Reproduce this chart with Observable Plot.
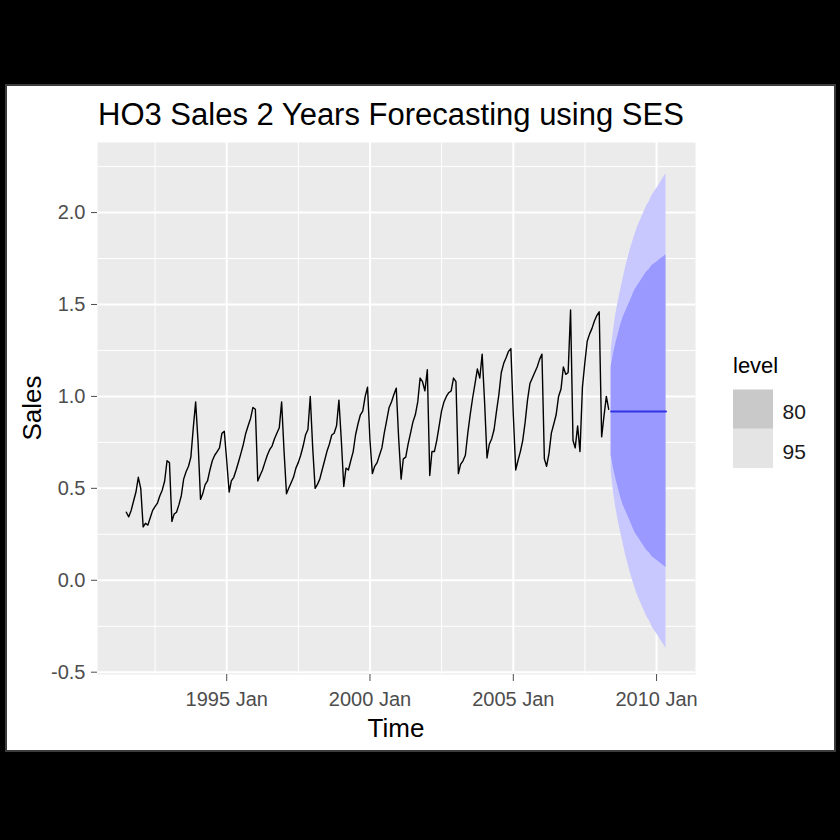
<!DOCTYPE html>
<html><head><meta charset="utf-8">
<script src="https://cdn.jsdelivr.net/npm/d3@7"></script>
<script src="https://cdn.jsdelivr.net/npm/@observablehq/plot@0.6"></script>
<style>
html,body{margin:0;padding:0;background:#000;width:840px;height:840px;overflow:hidden;}
#box{position:absolute;left:5px;top:84px;width:827px;height:664px;background:#fff;border:2px solid #3c3c3c;}
#chart{position:absolute;left:0;top:0;}
</style></head><body>
<div id="box"></div>
<div id="chart"></div>
<script>
// Monthly sales, starting July 1991, ending May 2008
const startYear = 1991, startMonth = 7;
const sales = [
  0.37, 0.345, 0.38, 0.43, 0.48, 0.56,
  0.50, 0.29, 0.31, 0.30, 0.34, 0.38, 0.40, 0.42, 0.46, 0.49, 0.54, 0.65,
  0.64, 0.32, 0.36, 0.37, 0.41, 0.46, 0.55, 0.59, 0.62, 0.67, 0.83, 0.97,
  0.75, 0.44, 0.47, 0.52, 0.54, 0.60, 0.65, 0.68, 0.70, 0.72, 0.80, 0.81,
  0.65, 0.48, 0.54, 0.56, 0.60, 0.645, 0.69, 0.74, 0.80, 0.84, 0.88, 0.94,
  0.93, 0.54, 0.57, 0.60, 0.64, 0.68, 0.71, 0.73, 0.77, 0.80, 0.83, 0.97,
  0.70, 0.47, 0.50, 0.53, 0.56, 0.61, 0.64, 0.68, 0.73, 0.79, 0.82, 1.00,
  0.72, 0.50, 0.52, 0.55, 0.60, 0.65, 0.70, 0.74, 0.79, 0.80, 0.84, 0.98,
  0.76, 0.51, 0.61, 0.60, 0.65, 0.70, 0.79, 0.85, 0.90, 0.92, 1.00, 1.05,
  0.76, 0.58, 0.62, 0.64, 0.68, 0.72, 0.80, 0.87, 0.94, 0.97, 1.01, 1.045,
  0.77, 0.55, 0.66, 0.67, 0.74, 0.80, 0.86, 0.90, 0.97, 1.10, 1.08, 1.03,
  1.145, 0.57, 0.70, 0.70, 0.76, 0.84, 0.92, 0.97, 1.00, 1.02, 1.03, 1.10,
  1.08, 0.58, 0.63, 0.65, 0.68, 0.80, 0.90, 0.99, 1.07, 1.15, 1.10, 1.23,
  0.97, 0.665, 0.74, 0.77, 0.82, 0.92, 1.01, 1.13, 1.18, 1.21, 1.245, 1.26,
  0.90, 0.60, 0.65, 0.70, 0.76, 0.86, 0.98, 1.07, 1.10, 1.13, 1.16, 1.20,
  1.23, 0.66, 0.62, 0.69, 0.80, 0.85, 0.90, 1.00, 1.04, 1.16, 1.12, 1.13,
  1.47, 0.76, 0.72, 0.84, 0.70, 1.05, 1.18, 1.30, 1.34, 1.37, 1.41, 1.44,
  1.46, 0.78, 0.89, 1.00, 0.93
];
// 24-month SES forecast, starting June 2008
const fcStartYear = 2008, fcStartMonth = 6;
const fcMean = [0.918,0.918,0.918,0.918,0.918,0.918,0.918,0.918,0.918,0.918,0.918,0.918,
                0.918,0.918,0.918,0.918,0.918,0.918,0.918,0.918,0.918,0.918,0.918,0.918];
const hi95 = [1.25,1.36,1.45,1.52,1.58,1.64,1.70,1.75,1.80,1.84,1.88,1.92,1.95,1.98,2.01,2.04,2.06,2.09,2.11,2.13,2.15,2.17,2.19,2.21];
const lo95 = [0.59,0.48,0.39,0.32,0.26,0.20,0.14,0.09,0.04,0.00,-0.04,-0.08,-0.11,-0.14,-0.17,-0.20,-0.22,-0.25,-0.27,-0.29,-0.31,-0.33,-0.35,-0.37];
const hi80 = [1.16,1.23,1.29,1.34,1.39,1.43,1.46,1.49,1.52,1.55,1.58,1.60,1.62,1.64,1.66,1.68,1.69,1.71,1.72,1.73,1.74,1.75,1.76,1.77];
const lo80 = [0.68,0.61,0.55,0.50,0.45,0.41,0.38,0.35,0.32,0.29,0.26,0.24,0.22,0.20,0.18,0.16,0.15,0.13,0.12,0.11,0.10,0.09,0.08,0.07];

const yTicks = [-0.5, 0, 0.5, 1, 1.5, 2];
const yMinor = [-0.25, 0.25, 0.75, 1.25, 1.75, 2.25];
const xTickYears = [1995, 2000, 2005, 2010];
const xMinorYears = [1992.5, 1997.5, 2002.5, 2007.5];
const levels = ["80", "95"];

const fy = y => { const yr = Math.floor(y); const s = Date.UTC(yr,0,1), e = Date.UTC(yr+1,0,1); return new Date(s + (y-yr)*(e-s)); };
const monthDate = (y0, m0, i) => new Date(Date.UTC(y0, m0 - 1 + i, 1));

const series = sales.map((v,i) => ({date: monthDate(startYear, startMonth, i), value: v}));
const fc = fcMean.map((m,i) => ({date: monthDate(fcStartYear, fcStartMonth, i), mean: m,
  lo80: lo80[i], hi80: hi80[i], lo95: lo95[i], hi95: hi95[i]}));

const FONT = "'Liberation Sans', Arial, sans-serif";
const plot = Plot.plot({
  width: 840, height: 840,
  marginLeft: 97, marginRight: 145, marginTop: 142, marginBottom: 166,
  style: {background: "transparent", fontFamily: FONT},
  x: {type: "utc", domain: [fy(1990.49), fy(2011.36)]},
  y: {domain: [-0.5125, 2.381]},
  marks: [
    Plot.frame({fill: "#ebebeb", stroke: "none"}),
    Plot.ruleY(yMinor, {stroke: "#ffffff", strokeWidth: 1}),
    Plot.ruleX(xMinorYears.map(fy), {stroke: "#ffffff", strokeWidth: 1}),
    Plot.ruleY(yTicks, {stroke: "#ffffff", strokeWidth: 2}),
    Plot.ruleX(xTickYears.map(fy), {stroke: "#ffffff", strokeWidth: 2}),
    Plot.areaY(fc, {x: "date", y1: "lo95", y2: "hi95", fill: "#c8c8ff"}),
    Plot.areaY(fc, {x: "date", y1: "lo80", y2: "hi80", fill: "#9999ff"}),
    Plot.line(series, {x: "date", y: "value", stroke: "#000", strokeWidth: 1.4}),
    Plot.line(fc, {x: "date", y: "mean", stroke: "#3333e6", strokeWidth: 2}),
    Plot.axisX(xTickYears.map(fy), {tickFormat: d => d.getUTCFullYear() + " Jan", tickSize: 7, tickPadding: 10,
      fontSize: 20, color: "#4d4d4d", label: null}),
    Plot.axisY(yTicks, {tickFormat: d => d.toFixed(1), tickSize: 6, tickPadding: 6,
      fontSize: 20, color: "#4d4d4d", label: null})
  ]
});
document.getElementById("chart").appendChild(plot);

const svg = d3.select(plot);
function txt(s, x, y, size, opts = {}) {
  const t = svg.append("text").text(s).attr("x", x).attr("y", y)
    .attr("font-size", size).attr("font-family", FONT).attr("fill", opts.fill || "#000")
    .attr("text-anchor", opts.anchor || "start");
  if (opts.transform) t.attr("transform", opts.transform).attr("x", 0).attr("y", 0);
  return t;
}
txt("HO3 Sales 2 Years Forecasting using SES", 98, 124.5, 31);
txt("Time", 396, 736.5, 26, {anchor: "middle"});
txt("Sales", 0, 0, 26, {anchor: "middle", transform: "translate(41,408) rotate(-90)"});
// legend
txt("level", 733, 373, 22);
const keyFill = {"80": "#c9c9c9", "95": "#e4e4e4"};
levels.forEach((lv, i) => {
  svg.append("rect").attr("x", 733).attr("y", 389.5 + i * 39.3).attr("width", 40).attr("height", 39.3)
    .attr("fill", keyFill[lv]);
  txt(lv, 782.5, 418.5 + i * 40, 21, {fill: "#1a1a1a"});
});
</script>
</body></html>
